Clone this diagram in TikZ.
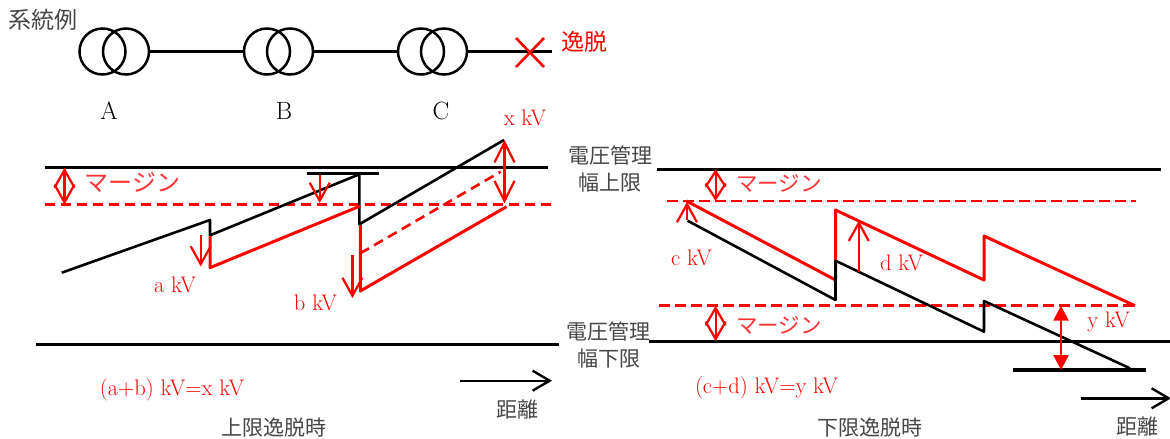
\documentclass[tikz,border=0pt]{standalone}
\usepackage{fontspec}
\usepackage{xcolor}
\newfontfamily\jafont{Noto Sans CJK JP}
\usetikzlibrary{arrows.meta}
\definecolor{volred}{RGB}{255,0,0}
\definecolor{labgray}{RGB}{70,70,70}

\begin{document}
\begin{tikzpicture}[x=1pt,y=-1pt,
    xfmr/.style={draw,circle,line width=2.5pt,minimum size=46pt,inner sep=0pt},
    wire/.style={line width=2.8pt},
    level/.style={line width=3.2pt},
    margin/.style={draw=volred,line width=2.7pt,dash pattern=on 10.5pt off 5.5pt},
    blk/.style={line width=2.6pt,line join=round},
    rd/.style={draw=volred,line width=3pt,line join=round},
    rdash/.style={draw=volred,line width=2.6pt,dash pattern=on 10pt off 6pt},
    barb/.style={draw=volred,line width=2.2pt,-{Straight Barb[length=18pt,width=20pt,line width=2.2pt]}},
    dbarb/.style={draw=volred,line width=2.2pt,{Straight Barb[length=#1,width=20pt,line width=2.2pt]}-{Straight Barb[length=#1,width=20pt,line width=2.2pt]}},
    dtri/.style={draw=volred,line width=2.6pt,{Triangle[length=15pt,width=15pt]}-{Triangle[length=15pt,width=15pt]},fill=volred},
    dist/.style={line width=2.4pt,-{Straight Barb[length=17pt,width=20pt,line width=2.4pt]}},
    jalab/.style={text=labgray,inner sep=0pt,font=\jafont\fontsize{21}{21}\selectfont},
    jared/.style={text=volred,inner sep=0pt,font=\jafont\fontsize{23}{23}\selectfont},
    jamarg/.style={text=volred!80,inner sep=0pt,font=\jafont\fontsize{#1}{#1}\selectfont},
    redlab/.style={text=volred,inner sep=0pt,font=\fontsize{22.5}{22.5}\selectfont},
    blklab/.style={inner sep=0pt,font=\fontsize{25}{25}\selectfont}]

    \useasboundingbox (0,0) rectangle (1170,439);

    % system
    \node[jalab,font=\jafont\fontsize{23}{23}\selectfont] (title) at (43.5,20) {系統例};

    \node[xfmr] (A1) at (102.5,51.5) {};
    \node[xfmr] (A2) at (126,51.5) {};
    \node[xfmr] (B1) at (267,51.5) {};
    \node[xfmr] (B2) at (290,51.5) {};
    \node[xfmr] (C1) at (421,51.5) {};
    \node[xfmr] (C2) at (444,51.5) {};

    \coordinate (end) at (552,51.5);
    \coordinate (x1) at (516,38);
    \coordinate (x2) at (544,67);
    \coordinate (x3) at (544,38);
    \coordinate (x4) at (516,67);

    \draw[wire] (A2) -- (B1);
    \draw[wire] (B2) -- (C1);
    \draw[wire] (C2) -- (end);
    \draw[volred,line width=2.6pt] (x1) -- (x2);
    \draw[volred,line width=2.6pt] (x3) -- (x4);

    \node[blklab] (labA) at (109,111) {A};
    \node[blklab] (labB) at (284,111) {B};
    \node[blklab] (labC) at (441,111) {C};
    \node[jared] (trip) at (584.5,42) {逸脱};

    % upper limit
    \coordinate (ua) at (44.5,167.5);
    \coordinate (ub) at (548,167.5);
    \coordinate (uc) at (44.5,204.7);
    \coordinate (ud) at (554,204.7);
    \coordinate (ue) at (36,344.3);
    \coordinate (uf) at (559,344.3);
    \coordinate (ug) at (64.5,167.5);
    \coordinate (uh) at (64.5,204.7);
    \coordinate (ui) at (306.5,173.3);
    \coordinate (uj) at (379,173.3);

    \draw[level] (ua) -- (ub);
    \draw[margin] (uc) -- (ud);
    \draw[level] (ue) -- (uf);
    \draw[level] (ui) -- (uj);
    \draw[dbarb=18pt] (ug) -- (uh);

    \coordinate (k1) at (61.7,272.7);
    \coordinate (k2) at (210,220);
    \coordinate (k3) at (210,235.3);
    \coordinate (k4) at (359.3,174.3);
    \coordinate (k5) at (359.3,224.3);
    \coordinate (k6) at (504,140);
    \draw[blk] (k1) -- (k2) -- (k3) -- (k4) -- (k5) -- (k6);

    \coordinate (r1) at (210,236);
    \coordinate (r2) at (210,267.7);
    \coordinate (r3) at (360.3,206);
    \coordinate (r4) at (360.3,225);
    \coordinate (r5) at (360.3,291);
    \coordinate (r6) at (506.5,206.7);
    \coordinate (r7) at (360.3,253.3);
    \coordinate (r8) at (500.7,171.7);
    \draw[rd] (r1) -- (r2) -- (r3);
    \draw[rd] (r4) -- (r5) -- (r6);
    \draw[rdash] (r7) -- (r8);

    \coordinate (aa) at (200.7,235);
    \coordinate (ab) at (200.7,266.5);
    \coordinate (ba) at (352.4,255);
    \coordinate (bb) at (352.4,298);
    \coordinate (ca) at (319.7,175);
    \coordinate (cb) at (319.7,203);
    \coordinate (xa) at (504.5,140);
    \coordinate (xb) at (504.5,203.3);
    \draw[barb] (aa) -- (ab);
    \draw[barb] (ba) -- (bb);
    \draw[barb] (ca) -- (cb);
    \draw[dbarb=20pt] (xa) -- (xb);

    \coordinate (da) at (460,380.7);
    \coordinate (db) at (552,380.7);
    \draw[dist] (da) -- (db);

    \node[redlab] (xlab) at (525,118) {x kV};
    \node[jamarg=24] (umarg) at (132.5,183) {マージン};
    \node[redlab] (alab) at (175,285) {a kV};
    \node[redlab] (blab) at (315.5,303) {b kV};
    \node[redlab] (usum) at (172,390) {(a+b) kV=x kV};
    \node[jalab] (udist) at (517,409.3) {距離};
    \node[jalab] (utitle) at (273.7,427.7) {上限逸脱時};

    % lower limit
    \node[jalab] (hi1) at (610,155) {電圧管理};
    \node[jalab] (hi2) at (610,183) {幅上限};
    \node[jalab] (lo1) at (608.5,331) {電圧管理};
    \node[jalab] (lo2) at (609,359) {幅下限};

    \coordinate (la) at (657,169.3);
    \coordinate (lb) at (1161,169.3);
    \coordinate (lc) at (667,201);
    \coordinate (ld) at (1136,201);
    \coordinate (le) at (659,305.7);
    \coordinate (lf) at (1136,305.7);
    \coordinate (lg) at (648.7,341.3);
    \coordinate (lh) at (1170,341.3);
    \coordinate (li) at (1013,370);
    \coordinate (lj) at (1145.6,370);

    \draw[level] (la) -- (lb);
    \draw[margin] (lc) -- (ld);
    \draw[margin] (le) -- (lf);
    \draw[level] (lg) -- (lh);
    \draw[level] (li) -- (lj);

    \coordinate (ma) at (715.6,169.3);
    \coordinate (mb) at (715.6,201);
    \coordinate (mc) at (715.6,305.7);
    \coordinate (md) at (715.6,341.3);
    \draw[dbarb=15.5pt] (ma) -- (mb);
    \draw[dbarb=17.5pt] (mc) -- (md);

    \coordinate (s1) at (686.5,201);
    \coordinate (s2) at (835.5,280);
    \coordinate (s3) at (835.5,210);
    \coordinate (s4) at (984,280);
    \coordinate (s5) at (984,236);
    \coordinate (s6) at (1135,305.7);
    \draw[rd] (s1) -- (s2) -- (s3) -- (s4) -- (s5) -- (s6);

    \coordinate (t1) at (687.6,220.7);
    \coordinate (t2) at (835.5,300);
    \coordinate (t3) at (835.5,260.7);
    \coordinate (t4) at (984,331.7);
    \coordinate (t5) at (984,301);
    \coordinate (t6) at (1130,368.3);
    \draw[blk] (t1) -- (t2) -- (t3) -- (t4) -- (t5) -- (t6);

    \coordinate (va) at (687,220);
    \coordinate (vb) at (687,202);
    \coordinate (wa) at (858.8,271.7);
    \coordinate (wb) at (858.8,220.7);
    \coordinate (ya) at (1061,305.7);
    \coordinate (yb) at (1061,370);
    \draw[barb] (va) -- (vb);
    \draw[barb] (wa) -- (wb);
    \draw[dtri] (ya) -- (yb);

    \coordinate (ea) at (1080.6,398.3);
    \coordinate (eb) at (1171,398.3);
    \draw[dist] (ea) -- (eb);

    \node[jamarg=21.5] (lmarg1) at (779,183) {マージン};
    \node[jamarg=21.5] (lmarg2) at (779,325) {マージン};
    \node[redlab] (clab) at (691.5,257.7) {c kV};
    \node[redlab] (dlab) at (901.6,263.3) {d kV};
    \node[redlab] (ylab) at (1108.6,321.7) {y kV};
    \node[redlab] (lsum) at (766.5,388) {(c+d) kV=y kV};
    \node[jalab] (ldist) at (1137.7,426.7) {距離};
    \node[jalab] (ltitle) at (869.5,427.7) {下限逸脱時};
\end{tikzpicture}
\end{document}
